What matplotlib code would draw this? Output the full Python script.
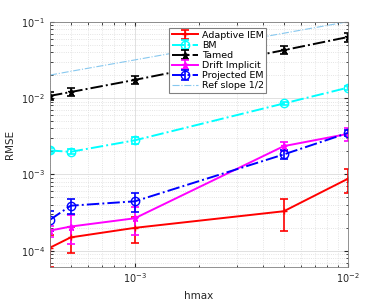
import numpy as np
import matplotlib.pyplot as plt
from matplotlib.ticker import LogLocator, NullFormatter

# Datos
hmax = [4e-4, 5e-4, 1e-3, 5e-3, 1e-2]

adapt_iem     = [1.10e-4, 1.50e-4, 2.00e-4, 3.30e-4, 8.80e-4]
adapt_iem_err = [0.49e-4, 0.55e-4, 0.75e-4, 1.50e-4, 3.00e-4]

bm     = [2.06e-3, 1.98e-3, 2.80e-3, 8.50e-3, 1.37e-2]
bm_err = [0.15e-3, 0.15e-3, 0.30e-3, 0.50e-3, 0.80e-3]

tamed     = [1.07e-2, 1.20e-2, 1.73e-2, 4.24e-2, 6.30e-2]
tamed_err = [0.12e-2, 0.15e-2, 0.20e-2, 0.50e-2, 0.80e-2]

drift_imp     = [1.84e-4, 2.08e-4, 2.67e-4, 2.35e-3, 3.40e-3]
drift_imp_err = [0.30e-4, 0.85e-4, 1.05e-4, 0.30e-3, 0.65e-3]

proj_em     = [2.55e-4, 3.90e-4, 4.45e-4, 1.83e-3, 3.50e-3]
proj_em_err = [0.75e-4, 0.90e-4, 1.20e-4, 0.25e-3, 0.30e-3]

ref_half = [0.0200, 0.0224, 0.0316, 0.0707, 0.1000]

gris = '#262626'

fig = plt.figure(figsize=(3.85, 3.0), dpi=100)
ax = fig.add_axes([50/385, 1-266.7/300, 298/385, 245/300])

kw = dict(linewidth=1.4, capsize=3, elinewidth=1.2, capthick=1.2)
h1 = ax.errorbar(hmax, adapt_iem, yerr=adapt_iem_err, color='red', linestyle='-',
                 marker='+', markersize=5, label='Adaptive IEM', **kw)
h2 = ax.errorbar(hmax, bm, yerr=bm_err, color='cyan', linestyle='-.',
                 marker='o', markersize=6, markerfacecolor='none', label='BM', **kw)
h3 = ax.errorbar(hmax, tamed, yerr=tamed_err, color='black', linestyle='-.',
                 marker='*', markersize=5, label='Tamed', **kw)
h4 = ax.errorbar(hmax, drift_imp, yerr=drift_imp_err, color='magenta', linestyle='-',
                 marker='*', markersize=5, label='Drift Implicit', **kw)
h5 = ax.errorbar(hmax, proj_em, yerr=proj_em_err, color='blue', linestyle='-.',
                 marker='o', markersize=6, markerfacecolor='none', label='Projected EM', **kw)
h6, = ax.plot(hmax, ref_half, color='#87c8ef', linestyle='-.', linewidth=0.8,
              label='Ref slope 1/2')

ax.set_xscale('log')
ax.set_yscale('log')
ax.set_xlim(4e-4, 1e-2)
ax.set_ylim(6.2e-5, 1e-1)

ax.xaxis.set_major_locator(LogLocator(base=10, numticks=10))
ax.xaxis.set_minor_locator(LogLocator(base=10, subs=np.arange(2, 10), numticks=10))
ax.xaxis.set_minor_formatter(NullFormatter())
ax.yaxis.set_minor_formatter(NullFormatter())

ax.grid(True, which='major', color='#dcdcdc', linewidth=0.6)
ax.grid(True, which='minor', color='#dcdcdc', linestyle=':', linewidth=0.6)
ax.set_axisbelow(True)

ax.tick_params(which='both', direction='in', top=True, right=True,
               colors=gris, labelsize=7)
ax.tick_params(which='major', length=3)
ax.tick_params(which='minor', length=1.8)
for s in ax.spines.values():
    s.set_color('#808080')
    s.set_linewidth(0.6)

ax.set_xlabel('hmax', fontsize=7.5, color=gris)
ax.set_ylabel('RMSE', fontsize=7.5, color=gris)

handles = [h1, h2, h3, h4, h5, h6]
leg = ax.legend(handles, [h.get_label() for h in handles],
                loc='upper left', bbox_to_anchor=(0.40, 0.973), fontsize=6.8,
                fancybox=False, framealpha=1, edgecolor='#808080',
                borderpad=0.25, labelspacing=0.12, handlelength=2.8,
                handletextpad=0.4, borderaxespad=0)
leg.get_frame().set_linewidth(0.8)

fig.savefig('out.png', dpi=100)
